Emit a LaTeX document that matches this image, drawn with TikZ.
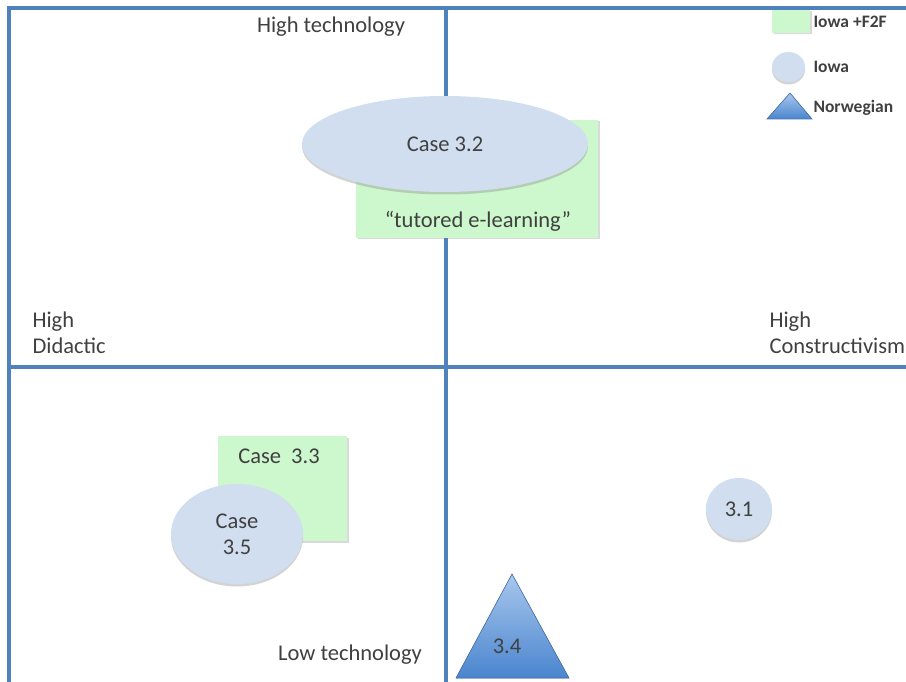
\documentclass[tikz,border=0pt]{standalone}
\usepackage{fontspec}
\setmainfont{Carlito}
\usetikzlibrary{shapes.geometric,shadows}

\definecolor{axisblue}{HTML}{4F81BD}
\definecolor{iowablue}{HTML}{D0DEEF}
\definecolor{mint}{HTML}{CDF7CD}
\definecolor{inkgray}{HTML}{404040}
\definecolor{normtop}{HTML}{A8C7ED}
\definecolor{normbot}{HTML}{4A85CE}

\tikzset{
  axis/.style={axisblue, line width=3.2pt},
  iowa/.style={ellipse, fill=iowablue, inner sep=0pt,
    drop shadow={shadow xshift=0pt, shadow yshift=-2.5pt, opacity=.35, fill=gray}},
  ftf/.style={rectangle, fill=mint, inner sep=0pt,
    drop shadow={shadow xshift=1.5pt, shadow yshift=-1.5pt, opacity=.3, fill=gray}},
  norw/.style={top color=normtop, bottom color=normbot, draw=axisblue!90!black, line width=.6pt},
}

\begin{document}
\begin{tikzpicture}[x=1pt, y=-1pt,
  every node/.style={text=inkgray, font=\fontsize{22.5}{26}\selectfont}]
 \useasboundingbox (0,0) rectangle (906,682);

 % frame and the two axes
 \coordinate (fb) at (9,682);
 \coordinate (ft) at (9,8);
 \coordinate (fr) at (906,8);
 \coordinate (vt) at (446,8);
 \coordinate (vb) at (446,682);
 \coordinate (hl) at (9,367);
 \coordinate (hr) at (906,367);
 \draw [axis] (fb) -- (ft) -- (fr);
 \draw [axis] (vt) -- (vb);
 \draw [axis] (hl) -- (hr);

 % axis labels
 \node (ht) at (331,27) {High technology};
 \node (lt) at (350,655) {Low technology};
 \node (hd) [anchor=west, align=left] at (29,333) {High\\Didactic};
 \node (hc) [anchor=west, align=left] at (766,333) {High\\Constructivism};

 % cases
 \node (r32) [ftf, minimum width=242pt, minimum height=118pt] at (477,179) {};
 \node (t32) at (478,221) {“tutored e-learning”};
 \node (c32) [iowa, minimum width=286pt, minimum height=96pt] at (445,144) {Case 3.2};

 \node (c33) [ftf, minimum width=129pt, minimum height=105pt] at (282.5,488.5) {};
 \node (t33) at (279,456) {Case\ \ 3.3};
 \node (c35) [iowa, minimum width=132pt, minimum height=100pt, align=center] at (237,534) {Case\\3.5};

 \node (c31) [iowa, minimum width=66pt, minimum height=62pt] at (739,509) {3.1};

 \coordinate (n34a) at (512,574);
 \coordinate (n34l) at (456,678);
 \coordinate (n34r) at (569,678);
 \filldraw [norw] (n34a) -- (n34l) -- (n34r) -- cycle;
 \node (c34) at (507,646) {3.4};

 % legend
 \begin{scope}[every node/.style={text=inkgray, font=\fontsize{17.5}{20}\selectfont\bfseries}]
   \node (kf) [ftf, minimum width=38pt, minimum height=23pt] at (791,21.5) {};
   \node (ki) [iowa, minimum width=33pt, minimum height=30pt] at (788.5,67) {};
   \coordinate (kna) at (790,93);
   \coordinate (knl) at (767,119);
   \coordinate (knr) at (812,119);
   \filldraw [norw] (kna) -- (knl) -- (knr) -- cycle;
   \node (lf) [anchor=west] at (810,22) {Iowa +F2F};
   \node (li) [anchor=west] at (810,67) {Iowa};
   \node (ln) [anchor=west] at (810,108) {Norwegian};
 \end{scope}
\end{tikzpicture}
\end{document}
